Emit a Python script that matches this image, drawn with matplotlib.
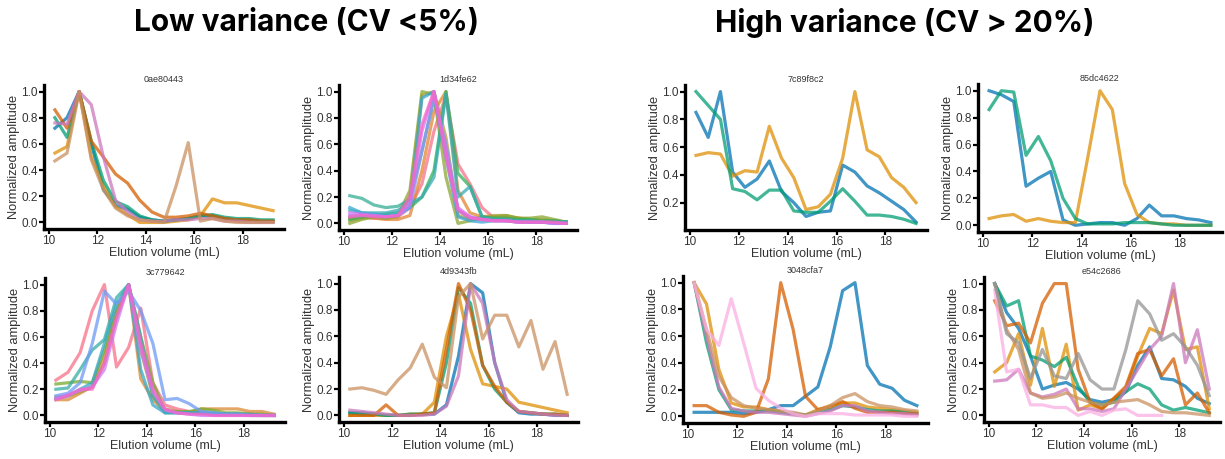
import numpy as np
import matplotlib.pyplot as plt
import seaborn as sns

# elution volumes (mL), 19 fractions
vol = [10.25, 10.75, 11.25, 11.75, 12.25, 12.75, 13.25, 13.75, 14.25, 14.75,
       15.25, 15.75, 16.25, 16.75, 17.25, 17.75, 18.25, 18.75, 19.25]
nan = np.nan

# ---- low variance ----
traces_0ae80443 = [
    [0.72, 0.80, 1.0, 0.60, 0.25, 0.13, 0.10, 0.04, 0.02, 0.01, 0.02, 0.03, 0.05, 0.05, 0.03, 0.02, 0.02, 0.01, 0.01],
    [0.53, 0.58, 1.0, 0.50, 0.28, 0.12, 0.06, 0.00, 0.00, 0.00, 0.01, 0.02, 0.05, 0.18, 0.15, 0.15, 0.13, 0.11, 0.09],
    [0.80, 0.65, 1.0, 0.62, 0.32, 0.16, 0.12, 0.05, 0.02, 0.01, 0.02, 0.03, 0.05, 0.06, 0.04, 0.03, 0.03, 0.02, 0.02],
    [0.86, 0.72, 1.0, 0.62, 0.50, 0.37, 0.30, 0.17, 0.08, 0.04, 0.04, 0.05, 0.07, 0.05, 0.03, 0.02, 0.02, 0.01, 0.01],
    [0.76, 0.75, 1.0, 0.90, 0.50, 0.17, 0.08, 0.02, 0.01, 0.01, 0.02, 0.02, 0.03, 0.03, 0.01, 0.01, 0.00, 0.00, 0.00],
    [0.47, 0.53, 1.0, 0.48, 0.25, 0.11, 0.05, 0.02, 0.01, 0.00, 0.28, 0.61, 0.01, 0.03, 0.01, 0.00, 0.00, 0.00, 0.00],
]
traces_1d34fe62 = [
    [0.05, 0.05, 0.04, 0.04, 0.05, 0.12, 0.30, 0.70, 0.97, 0.45, 0.30, 0.12, 0.04, 0.03, 0.02, 0.02, 0.01, 0.01, 0.01],
    [0.04, 0.05, 0.04, 0.03, 0.03, 0.06, 0.40, 0.85, 1.00, 0.25, 0.08, 0.05, 0.04, 0.05, 0.04, 0.03, 0.02, 0.02, 0.01],
    [0.02, 0.04, 0.05, 0.04, 0.05, 0.20, 0.97, 1.00, 0.65, 0.06, 0.03, 0.05, 0.06, 0.06, 0.04, 0.03, 0.03, 0.02, 0.01],
    [0.00, 0.03, 0.05, 0.04, 0.06, 0.25, 1.00, 0.98, 0.35, 0.00, 0.02, 0.04, 0.05, 0.06, 0.04, 0.04, 0.05, 0.03, 0.01],
    [0.03, 0.05, 0.06, 0.07, 0.08, 0.12, 0.20, 0.40, 1.00, 0.38, 0.28, 0.05, 0.04, 0.04, 0.03, 0.03, 0.02, 0.02, 0.01],
    [0.21, 0.19, 0.14, 0.12, 0.13, 0.18, 0.55, 0.95, 0.55, 0.10, 0.04, 0.03, 0.03, 0.02, 0.02, 0.01, 0.01, 0.01, 0.01],
    [0.10, 0.08, 0.08, 0.08, 0.10, 0.15, 0.20, 0.35, 0.98, 0.20, 0.28, 0.05, 0.03, 0.03, 0.02, 0.02, 0.01, 0.01, 0.01],
    [0.12, 0.08, 0.07, 0.06, 0.07, 0.12, 0.95, 1.00, 0.50, 0.05, 0.02, 0.01, 0.02, 0.02, 0.01, 0.01, 0.01, 0.00, 0.00],
    [0.06, 0.06, 0.06, 0.05, 0.06, 0.12, 0.55, 0.95, 0.60, 0.10, 0.05, 0.03, 0.02, 0.02, 0.01, 0.01, 0.01, 0.00, 0.00],
    [0.08, 0.07, 0.06, 0.05, 0.06, 0.15, 0.70, 1.00, 0.55, 0.12, 0.05, 0.03, 0.02, 0.02, 0.01, 0.01, 0.01, 0.00, 0.00],
    [0.05, 0.06, 0.05, 0.05, 0.06, 0.20, 0.75, 1.00, 0.50, 0.10, 0.04, 0.03, 0.02, 0.02, 0.01, 0.01, 0.01, 0.01, 0.00],
]
traces_3c779642 = [
    [0.27, 0.33, 0.48, 0.80, 1.00, 0.37, 0.52, 0.82, 0.25, 0.08, 0.05, 0.03, 0.02, 0.01, 0.01, 0.01, 0.01, 0.00, 0.00],
    [0.12, 0.12, 0.17, 0.22, 0.45, 0.80, 1.00, 0.28, 0.12, 0.03, 0.03, 0.02, 0.05, 0.05, 0.05, 0.05, 0.03, 0.03, 0.01],
    [0.14, 0.15, 0.18, 0.22, 0.40, 0.75, 1.00, 0.50, 0.15, 0.05, 0.03, 0.02, 0.02, 0.01, 0.01, 0.01, 0.00, 0.00, 0.00],
    [0.24, 0.25, 0.26, 0.25, 0.50, 0.80, 1.00, 0.60, 0.25, 0.03, 0.03, 0.03, 0.05, 0.04, 0.02, 0.02, 0.01, 0.01, 0.00],
    [0.20, 0.21, 0.35, 0.50, 0.58, 0.90, 1.00, 0.60, 0.15, 0.02, 0.02, 0.02, 0.02, 0.02, 0.01, 0.01, 0.01, 0.00, 0.00],
    [0.13, 0.15, 0.20, 0.25, 0.55, 0.85, 1.00, 0.35, 0.08, 0.02, 0.02, 0.02, 0.02, 0.01, 0.01, 0.01, 0.00, 0.00, 0.00],
    [0.15, 0.17, 0.25, 0.55, 0.95, 0.85, 0.95, 0.80, 0.55, 0.12, 0.13, 0.09, 0.03, 0.02, 0.01, 0.01, 0.00, 0.00, 0.00],
    [0.13, 0.16, 0.19, 0.22, 0.35, 0.70, 1.00, 0.50, 0.18, 0.04, 0.02, 0.01, 0.00, 0.00, 0.00, 0.00, 0.00, 0.00, 0.00],
    [0.12, 0.15, 0.20, 0.20, 0.40, 0.75, 1.00, 0.55, 0.20, 0.05, 0.02, 0.01, 0.01, 0.00, 0.00, 0.00, 0.00, 0.00, 0.00],
]
traces_4d9343fb = [
    [0.02, 0.02, 0.01, 0.00, 0.00, 0.00, 0.01, 0.01, 0.08, 0.45, 1.00, 0.93, 0.40, 0.10, 0.02, 0.01, 0.01, 0.00, 0.00],
    [0.00, 0.00, 0.00, 0.00, 0.00, 0.01, 0.01, 0.10, 0.60, 0.92, 0.50, 0.24, 0.22, 0.20, 0.10, 0.08, 0.06, 0.04, 0.02],
    [0.02, 0.01, 0.01, 0.00, 0.00, 0.01, 0.01, 0.02, 0.40, 0.97, 0.85, 0.38, 0.20, 0.10, 0.03, 0.02, 0.01, 0.01, 0.00],
    [0.00, 0.00, 0.00, 0.08, 0.00, 0.00, 0.01, 0.02, 0.50, 1.00, 0.80, 0.38, 0.22, 0.10, 0.03, 0.02, 0.01, 0.01, 0.00],
    [0.04, 0.03, 0.02, 0.01, 0.00, 0.00, 0.00, 0.01, 0.07, 0.30, 1.00, 0.85, 0.40, 0.12, 0.03, 0.02, 0.01, 0.00, 0.00],
    [0.20, 0.21, 0.19, 0.16, 0.27, 0.36, 0.54, 0.29, 0.21, 0.90, 1.00, 0.58, 0.76, 0.76, 0.52, 0.72, 0.35, 0.56, 0.16],
]

# ---- high variance ----
traces_7c89f8c2 = [
    [0.85, 0.67, 1.00, 0.42, 0.31, 0.37, 0.50, 0.28, 0.20, 0.10, 0.13, 0.14, 0.47, 0.42, 0.32, 0.27, 0.21, 0.15, 0.06],
    [0.54, 0.56, 0.55, 0.39, 0.43, 0.42, 0.75, 0.52, 0.38, 0.15, 0.17, 0.26, 0.52, 1.00, 0.58, 0.53, 0.38, 0.31, 0.20],
    [1.00, 0.90, 0.80, 0.30, 0.28, 0.22, 0.29, 0.29, 0.14, 0.13, 0.13, 0.21, 0.30, 0.21, 0.11, 0.11, 0.10, 0.08, 0.05],
]
traces_85dc4622 = [
    [1.00, 0.97, 0.92, 0.29, 0.35, 0.40, 0.04, 0.00, 0.01, 0.02, 0.02, 0.00, 0.05, 0.15, 0.07, 0.07, 0.05, 0.04, 0.02],
    [0.05, 0.07, 0.08, 0.03, 0.05, 0.03, 0.02, 0.02, 0.50, 1.00, 0.86, 0.31, 0.08, 0.02, 0.01, 0.01, 0.00, 0.00, 0.00],
    [0.86, 1.00, 0.99, 0.52, 0.66, 0.48, 0.20, 0.05, 0.01, 0.01, 0.01, 0.02, 0.02, 0.02, 0.01, 0.00, 0.00, 0.00, 0.00],
]
traces_3048cfa7 = [
    [0.03, 0.03, 0.03, 0.03, 0.02, 0.03, 0.05, 0.08, 0.08, 0.15, 0.22, 0.52, 0.94, 1.00, 0.38, 0.24, 0.21, 0.12, 0.08],
    [1.00, 0.84, 0.35, 0.10, 0.07, 0.07, 0.05, 0.04, 0.02, 0.01, 0.05, 0.08, 0.10, 0.10, 0.07, 0.06, 0.05, 0.04, 0.03],
    [1.00, 0.55, 0.20, 0.05, 0.04, 0.04, 0.04, 0.03, 0.02, 0.01, 0.03, 0.05, 0.08, 0.07, 0.05, 0.04, 0.04, 0.03, 0.02],
    [0.08, 0.08, 0.03, 0.01, 0.00, 0.03, 0.28, 1.00, 0.65, 0.15, 0.05, 0.07, 0.11, 0.06, 0.03, 0.03, 0.03, 0.02, 0.02],
    [1.00, 0.60, 0.22, 0.06, 0.04, 0.03, 0.03, 0.02, 0.01, 0.00, 0.02, 0.04, 0.08, 0.08, 0.04, 0.03, 0.02, 0.02, 0.01],
    [1.00, 0.65, 0.30, 0.14, 0.08, 0.06, 0.05, 0.04, 0.03, 0.01, 0.04, 0.08, 0.14, 0.17, 0.11, 0.08, 0.07, 0.05, 0.04],
    [1.00, 0.65, 0.53, 0.88, 0.55, 0.21, 0.12, 0.06, 0.02, 0.00, 0.02, 0.02, 0.02, 0.01, 0.01, 0.01, 0.01, 0.00, 0.00],
]
traces_e54c2686 = [
    [1.00, 0.78, 0.66, 0.45, 0.20, 0.23, 0.25, 0.20, 0.12, 0.10, 0.12, 0.18, 0.38, 0.52, 0.28, 0.27, 0.22, 0.13, 0.09],
    [0.33, 0.40, 0.62, 0.23, 0.66, 0.22, 0.54, 0.04, 0.08, 0.05, 0.13, 0.20, 0.45, 0.66, 0.62, 0.95, 0.50, 0.52, 0.05],
    [1.00, 0.83, 0.87, 0.45, 0.42, 0.37, 0.44, 0.22, 0.10, 0.08, 0.10, 0.18, 0.24, 0.20, 0.08, 0.04, 0.06, 0.04, 0.02],
    [0.87, 0.68, 0.70, 0.55, 0.85, 1.00, 1.00, 0.35, 0.10, 0.05, 0.13, 0.22, 0.47, 0.50, 0.30, 0.43, 0.08, 0.17, 0.02],
    [0.26, 0.27, 0.35, 0.17, 0.14, 0.16, 0.20, 0.05, 0.05, 0.03, 0.05, 0.20, 0.35, 0.50, 0.60, 1.00, 0.40, 0.65, 0.20],
    [1.00, 0.65, 0.50, 0.17, 0.13, 0.14, 0.17, 0.13, 0.10, 0.08, 0.10, 0.11, 0.12, 0.08, 0.03, 0.02, 0.02, 0.01, 0.00],
    [0.95, 0.33, 0.35, 0.08, 0.08, 0.06, 0.06, 0.00, 0.03, 0.00, 0.04, 0.05, 0.00, 0.00, 0.00, nan, nan, nan, nan],
    [1.00, 0.62, 0.55, 0.28, 0.50, 0.30, 0.28, 0.47, 0.27, 0.20, 0.20, 0.50, 0.87, 0.77, 0.57, 0.62, 0.52, 0.38, 0.15],
]

cb = sns.color_palette("colorblind")
h9 = sns.color_palette("husl", 10)
panels = [
    # name, traces, colours, (left, top, right, bottom) in pixels
    ("0ae80443", traces_0ae80443, [cb[0], cb[1], cb[2], cb[3], cb[4], cb[5]], (44, 85, 284, 229)),
    ("1d34fe62", traces_1d34fe62, sns.color_palette("husl", 11), (339, 85, 577, 230)),
    ("3c779642", traces_3c779642, [h9[0], h9[1], h9[2], h9[3], h9[5], h9[6], h9[7], h9[8], h9[9]], (45, 278, 285, 422)),
    ("4d9343fb", traces_4d9343fb, [cb[0], cb[1], cb[2], cb[3], cb[4], cb[5]], (339, 277, 578, 422)),
    ("7c89f8c2", traces_7c89f8c2, [cb[0], cb[1], cb[2]], (685, 85, 927, 230)),
    ("85dc4622", traces_85dc4622, [cb[0], cb[1], cb[2]], (978, 84, 1222, 232)),
    ("3048cfa7", traces_3048cfa7, [cb[0], cb[1], cb[2], cb[3], cb[4], cb[5], cb[6]], (683, 276, 928, 423)),
    ("e54c2686", traces_e54c2686, [cb[0], cb[1], cb[2], cb[3], cb[4], cb[5], cb[6], cb[7]], (984, 277, 1220, 422)),
]

W, H = 1225, 459
fig = plt.figure(figsize=(W / 100, H / 100), dpi=100)
plt.rcParams['font.family'] = ['Liberation Sans', 'DejaVu Sans']

fig.text(306 / W, 1 - 23 / H, "Low variance (CV <5%)", ha='center', va='center',
         fontsize=21.5, fontweight='bold', family='Inter')
fig.text(905 / W, 1 - 23 / H, "High variance (CV > 20%)", ha='center', va='center',
         fontsize=21.5, fontweight='bold', family='Inter')

for name, traces, colors, (l, t, r, b) in panels:
    ax = fig.add_axes([l / W, 1 - b / H, (r - l) / W, (b - t) / H])
    for y, c in zip(traces, colors):
        ax.plot(vol, y, color=c, lw=2.3, alpha=0.75)
    ax.set_title(name, fontsize=6.5, color='#333333', pad=2)
    ax.set_xlabel("Elution volume (mL)", fontsize=9, color='#333333', labelpad=0)
    ax.set_ylabel("Normalized amplitude", fontsize=9.3, color='#333333', labelpad=1)
    ax.set_xticks([10, 12, 14, 16, 18])
    for side in ['top', 'right']:
        ax.spines[side].set_visible(False)
    for side in ['left', 'bottom']:
        ax.spines[side].set_linewidth(2.4)
    ax.tick_params(length=3.5, width=1.6, labelsize=8.5, labelcolor='#333333', pad=1)

fig.savefig("out.png", dpi=100)
